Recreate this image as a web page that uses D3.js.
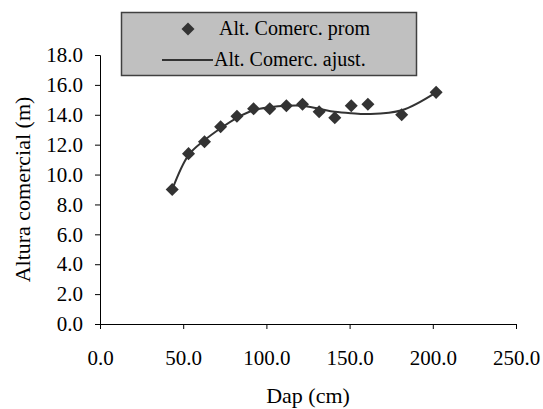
<!DOCTYPE html>
<html>
<head>
<meta charset="utf-8">
<script src="https://cdn.jsdelivr.net/npm/d3@7"></script>
<style>
    html, body { margin: 0; padding: 0; background: #fff; }
    svg { display: block; font-family: "Liberation Serif", "Times New Roman", serif; }
</style>
</head>
<body>
<div id="chart"></div>
<script>
const dap = [43.4, 53.2, 62.8, 72.5, 82.3, 92.3, 102.0, 112.0, 121.7, 131.7, 141.1, 151.0, 161.0, 181.3, 202.0];
const altProm = [9.0, 11.4, 12.2, 13.2, 13.9, 14.4, 14.4, 14.6, 14.7, 14.2, 13.8, 14.6, 14.7, 14.0, 15.5];
const altAjust = [9.0, 11.3, 12.3, 13.1, 13.8, 14.3, 14.5, 14.6, 14.6, 14.4, 14.2, 14.1, 14.05, 14.3, 15.5];
const xTicks = [0, 50, 100, 150, 200, 250];
const yTicks = [0, 2, 4, 6, 8, 10, 12, 14, 16, 18];
const legendLabels = ['Alt. Comerc. prom', 'Alt. Comerc. ajust.'];

const width = 543;
const height = 409;
const margin = { top: 55, right: 27, bottom: 85, left: 100 };
const ink = '#333333';
const tickFont = 21;
const titleFont = 22;
const legendFont = 20;

const svg = d3.select('#chart')
    .append('svg')
    .attr('width', width)
    .attr('height', height);

const x = d3.scaleLinear()
    .domain([0, 250])
    .range([margin.left, width - margin.right]);

const y = d3.scaleLinear()
    .domain([0, 18])
    .range([height - margin.bottom, margin.top]);

// axes
const xAxis = svg.append('g')
    .attr('transform', `translate(0,${y(0)})`)
    .call(d3.axisBottom(x).tickValues(xTicks).tickSize(5).tickPadding(21).tickFormat(d3.format('.1f')));

const yAxis = svg.append('g')
    .attr('transform', `translate(${x(0)},0)`)
    .call(d3.axisLeft(y).tickValues(yTicks).tickSize(5).tickPadding(12).tickFormat(d3.format('.1f')));

[xAxis, yAxis].forEach((axis) => {
    axis.attr('font-family', null).attr('font-size', null);
    axis.select('.domain').attr('stroke', '#000').attr('stroke-width', 1);
    axis.selectAll('.tick line').attr('stroke', '#000');
    axis.selectAll('.tick text')
        .attr('fill', '#000')
        .style('font-size', `${tickFont}px`);
});

// axis titles
svg.append('text')
    .attr('x', (x(0) + x(250)) / 2)
    .attr('y', 403)
    .attr('text-anchor', 'middle')
    .style('font-size', `${titleFont}px`)
    .text('Dap (cm)');

svg.append('text')
    .attr('transform', `translate(30,${(y(0) + y(18)) / 2}) rotate(-90)`)
    .attr('text-anchor', 'middle')
    .style('font-size', `${titleFont}px`)
    .text('Altura comercial (m)');

// fitted line
const fitted = dap.map((d, i) => ({ x: d, y: altAjust[i] }));
const line = d3.line()
    .x((d) => x(d.x))
    .y((d) => y(d.y))
    .curve(d3.curveCatmullRom.alpha(0.5));

svg.append('path')
    .datum(fitted)
    .attr('d', line)
    .attr('fill', 'none')
    .attr('stroke', ink)
    .attr('stroke-width', 2);

// observed means
const diamond = d3.symbol().type(d3.symbolSquare).size(85);
svg.append('g')
    .selectAll('path')
    .data(dap.map((d, i) => ({ x: d, y: altProm[i] })))
    .join('path')
    .attr('d', diamond)
    .attr('transform', (d) => `translate(${x(d.x)},${y(d.y)}) rotate(45)`)
    .attr('fill', ink);

// legend
const legend = svg.append('g');
legend.append('rect')
    .attr('x', 121.5)
    .attr('y', 12.5)
    .attr('width', 295)
    .attr('height', 63)
    .attr('fill', '#c0c0c0')
    .attr('stroke', '#404040')
    .attr('stroke-width', 1.5);

legend.append('path')
    .attr('d', diamond)
    .attr('transform', 'translate(188,29) rotate(45)')
    .attr('fill', ink);

legend.append('line')
    .attr('x1', 162)
    .attr('x2', 213)
    .attr('y1', 60)
    .attr('y2', 60)
    .attr('stroke', ink)
    .attr('stroke-width', 2);

legend.selectAll('text')
    .data(legendLabels)
    .join('text')
    .attr('x', (d, i) => (i === 0 ? 219 : 214))
    .attr('y', (d, i) => (i === 0 ? 35 : 66))
    .style('font-size', `${legendFont}px`)
    .attr('fill', '#000')
    .text((d) => d);
</script>
</body>
</html>
